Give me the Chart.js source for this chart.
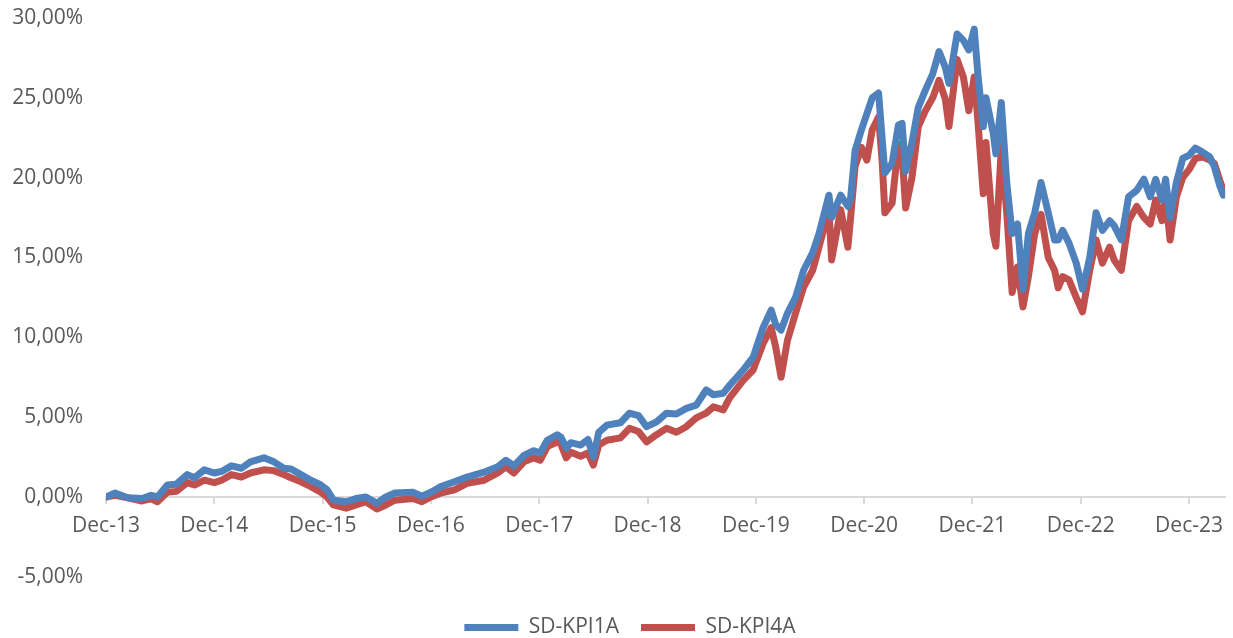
<!DOCTYPE html>
<html>
<head>
<meta charset="utf-8">
<script src="https://cdn.jsdelivr.net/npm/chart.js@4.4.1/dist/chart.umd.min.js"></script>
<style>
  html, body { margin: 0; padding: 0; background: #fff; }
  #wrap { width: 1233px; height: 638px; position: relative; }
</style>
</head>
<body>
<div id="wrap"><canvas id="chart"></canvas></div>
<script>
// month offset from Dec-13 for every sample
const months = [
  0, 1, 2.4, 4, 5, 5.7, 6.8, 7.8, 9, 9.8, 10.9, 12, 12.8, 13.9, 15, 16, 17.5, 18.6, 19.7, 20.5,
  21.6, 22.7, 23.8, 24.5, 25.2, 26.6, 27.7, 28.8, 30, 31, 32, 34, 35, 36, 37.1, 38.6, 40, 41.9,
  43.4, 44.3, 45.2, 46.3, 47.4, 48.1, 48.9, 50, 50.4, 51, 51.5, 52.6, 53.4, 54, 54.6, 55.5, 57,
  58, 59, 59.9, 61, 62.1, 63.2, 64.3, 65.4, 66.5, 67.3, 68.4, 69.1, 70.6, 71.7, 72.8, 73.7, 74.2,
  74.8, 75.5, 76.4, 77.3, 78.3, 79, 80.1, 80.4, 81.4, 82.2, 82.5, 83, 83.7, 84.3, 84.9, 85.6, 86,
  86.3, 87.1, 87.8, 88.2, 88.6, 89.3, 90, 90.8, 91.6, 92.3, 93, 93.4, 94.3, 95, 95.6, 96.2, 96.6,
  97.2, 97.5, 98.3, 98.6, 99.2, 99.8, 100.4, 101, 101.6, 102.2, 102.9, 103.6, 104.4, 105.1, 105.5,
  106, 106.7, 107.5, 108.2, 109, 109.7, 110.4, 111.2, 111.7, 112.5, 113.3, 114.2, 115, 115.7,
  116.3, 117, 117.4, 117.9, 118.6, 119.3, 120, 120.7, 121.5, 122.3, 122.8, 123.4, 123.8
];

// SD-KPI1A (%)
const kpi1a = [
  0.0, 0.25, -0.05, -0.1, 0.1, 0.0, 0.75, 0.8, 1.4, 1.2, 1.7, 1.5, 1.6, 1.95, 1.8, 2.2, 2.45, 2.2, 1.8, 1.75,
  1.4, 1.05, 0.75, 0.45, -0.2, -0.3, -0.1, 0.0, -0.4, 0.0, 0.25, 0.3, 0.05, 0.3, 0.65, 0.95, 1.25, 1.55,
  1.9, 2.3, 1.95, 2.6, 2.9, 2.75, 3.55, 3.9, 3.75, 3.05, 3.4, 3.25, 3.6, 2.5, 4.05, 4.5, 4.65,
  5.25, 5.1, 4.4, 4.7, 5.25, 5.2, 5.55, 5.75, 6.7, 6.4, 6.5, 7.0, 7.95, 8.75, 10.6, 11.7, 10.8,
  10.45, 11.5, 12.5, 14.2, 15.3, 16.5, 18.9, 17.5, 18.9, 18.2, 18.7, 21.7, 23.0, 24.0, 25.0, 25.3, 22.4,
  20.3, 20.9, 23.3, 23.4, 20.4, 22.2, 24.4, 25.5, 26.5, 27.9, 26.9, 25.9, 29.0, 28.6, 28.0, 29.3, 26.5,
  23.2, 25.0, 22.8, 21.5, 24.7, 19.7, 16.5, 17.1, 13.0, 16.5, 17.8, 19.7, 17.8, 16.1, 16.1,
  16.7, 15.9, 14.65, 13.0, 15.0, 17.8, 16.7, 17.3, 17.0, 16.1, 18.8, 19.2, 19.9, 18.8,
  19.9, 18.6, 19.9, 17.5, 19.7, 21.2, 21.4, 21.85, 21.6, 21.3, 20.7, 19.5, 18.9
];

// SD-KPI4A (%)
const kpi4a = [
  0.0, 0.1, -0.05, -0.25, -0.1, -0.3, 0.3, 0.35, 0.9, 0.75, 1.05, 0.9, 1.05, 1.4, 1.25, 1.5, 1.7, 1.65, 1.4, 1.2,
  0.95, 0.65, 0.3, 0.0, -0.5, -0.7, -0.5, -0.3, -0.75, -0.5, -0.2, -0.1, -0.3, 0.0, 0.25, 0.45, 0.85, 1.05,
  1.5, 1.9, 1.5, 2.2, 2.45, 2.3, 3.15, 3.45, 3.3, 2.45, 2.8, 2.55, 2.75, 2.0, 3.25, 3.55, 3.7,
  4.3, 4.1, 3.45, 3.9, 4.3, 4.05, 4.4, 4.95, 5.25, 5.65, 5.45, 6.2, 7.3, 7.95, 9.6, 10.6, 9.4,
  7.5, 9.8, 11.5, 13.15, 14.2, 15.65, 18.0, 14.85, 18.0, 15.65, 17.5, 20.7, 21.9, 21.1, 23.0, 23.8, 21.0,
  17.8, 18.4, 22.1, 21.5, 18.1, 20.0, 23.2, 24.2, 25.0, 26.1, 24.9, 23.2, 27.4, 26.3, 24.2, 26.3, 23.6,
  19.0, 22.2, 16.5, 15.7, 21.9, 17.8, 12.8, 14.4, 11.9, 13.8, 16.5, 17.7, 15.0, 14.2, 13.1,
  13.8, 13.6, 12.5, 11.6, 14.2, 16.1, 14.65, 15.65, 14.85, 14.2, 17.3, 18.2, 17.5, 17.1,
  18.6, 17.3, 18.8, 16.1, 18.8, 20.0, 20.5, 21.2, 21.3, 21.1, 20.9, 19.85, 19.2
];

const seriesNames = ['SD-KPI1A', 'SD-KPI4A'];
const yTicks = [-5, 0, 5, 10, 15, 20, 25, 30];

const textColor = '#595959';
const axisColor = '#d9d9d9';
const fontFamily = '"Open Sans", "Liberation Sans", sans-serif';

function toPoints(values) {
  return values.map((v, i) => ({ x: months[i], y: v }));
}

function makeSet(label, values, color) {
  return {
    label: label,
    data: toPoints(values),
    borderColor: color,
    backgroundColor: color,
    borderWidth: 7,
    borderCapStyle: 'round',
    borderJoinStyle: 'round',
    pointRadius: 0,
    tension: 0
  };
}

// legend sits a little right of the page centre in the original
const legendShift = {
  id: 'legendShift',
  afterLayout(chart) {
    if (chart.legend) {
      chart.legend.left += 14;
      chart.legend.right += 14;
    }
  }
};

const ctx = document.getElementById('chart').getContext('2d');
new Chart(ctx, {
  type: 'line',
  data: {
    datasets: [
      makeSet(seriesNames[0], kpi1a, '#4f81bd'),
      makeSet(seriesNames[1], kpi4a, '#c0504d')
    ]
  },
  plugins: [legendShift],
  options: {
    responsive: true,
    maintainAspectRatio: false,
    animation: false,
    layout: { padding: { top: 18, right: 1, left: 0, bottom: -10 } },
    plugins: {
      tooltip: { enabled: false },
      // empty spacer between plot and legend
      title: {
        display: true,
        text: '',
        position: 'bottom',
        weight: 500,
        font: { size: 1 },
        padding: { top: 17, bottom: 0 }
      },
      legend: {
        position: 'bottom',
        labels: {
          usePointStyle: true,
          pointStyle: 'line',
          pointStyleWidth: 54,
          color: textColor,
          font: { family: fontFamily, size: 21 },
          padding: 22
        }
      }
    },
    scales: {
      x: {
        type: 'linear',
        position: { y: 0 },
        min: 0,
        max: 124,
        grid: {
          drawOnChartArea: false,
          drawTicks: true,
          tickLength: 6,
          color: axisColor,
          lineWidth: 2
        },
        border: { display: true, color: axisColor, width: 2 },
        ticks: {
          stepSize: 12,
          includeBounds: false,
          autoSkip: false,
          maxRotation: 0,
          padding: 10,
          color: textColor,
          font: { family: fontFamily, size: 21 },
          callback: (v) => (v % 12 === 0 ? 'Dec-' + (13 + v / 12) : '')
        }
      },
      y: {
        type: 'linear',
        min: yTicks[0],
        max: yTicks[yTicks.length - 1],
        afterBuildTicks: (scale) => { scale.ticks = yTicks.map(v => ({ value: v })); },
        afterFit: (scale) => { scale.width = 106; },
        // invisible tick marks keep the labels away from the plot
        grid: { display: true, drawOnChartArea: false, drawTicks: true, tickLength: 23, color: 'rgba(0,0,0,0)' },
        border: { display: false },
        ticks: {
          padding: 0,
          color: textColor,
          font: { family: fontFamily, size: 21 },
          callback: (v) => v.toFixed(2).replace('.', ',') + '%'
        }
      }
    }
  }
});
</script>
</body>
</html>
